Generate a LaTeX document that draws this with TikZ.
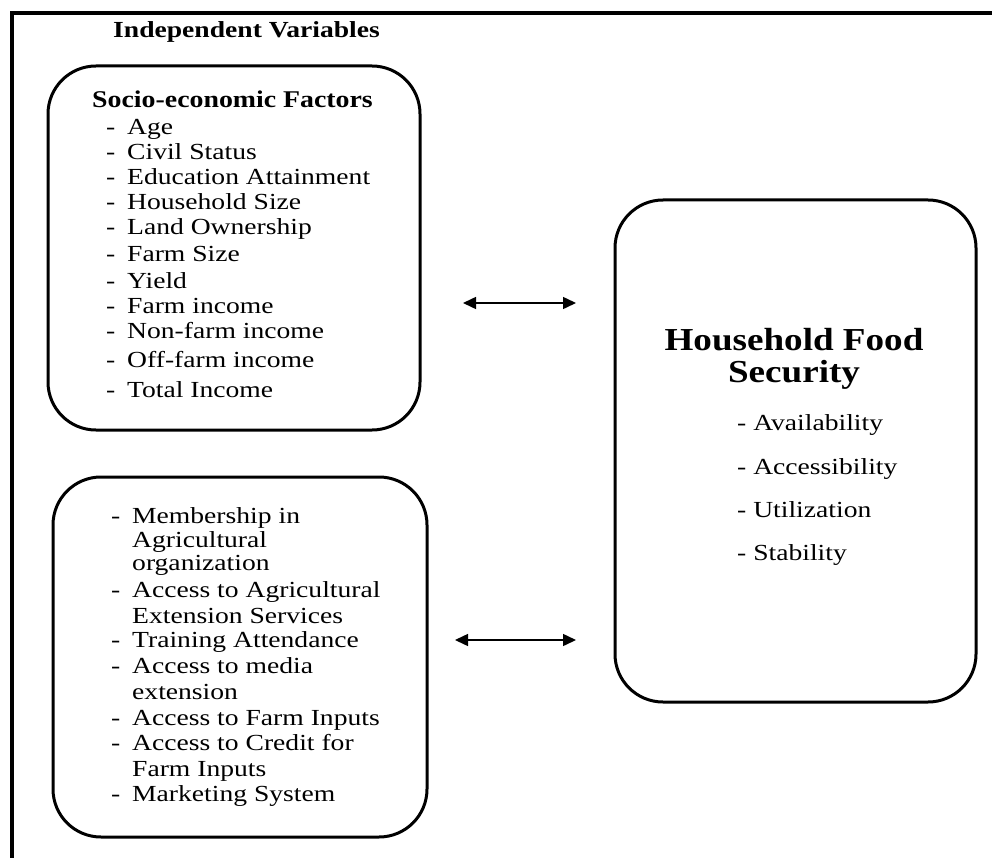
\documentclass[tikz,border=0pt]{standalone}
\usepackage{fontspec}
\setmainfont{Liberation Serif}
\newfontfamily\rmstretch{Liberation Serif}[FakeStretch=1.2]
\newfontfamily\bfstretch{Liberation Serif}[FakeStretch=1.16]
\newfontfamily\ivstretch{Liberation Serif}[FakeStretch=1.2]
\newfontfamily\hfstretch{Liberation Serif}[FakeStretch=1.16]
\usetikzlibrary{arrows.meta}
\tikzset{
  rbox/.style={draw, line width=3pt, rounded corners=48pt, inner sep=0pt},
  frameline/.style={line width=3.5pt},
  arr/.style={line width=1.5pt, {Triangle[length=13pt,width=12pt]}-{Triangle[length=13pt,width=12pt]}},
  itm/.style={anchor=base west, inner sep=0pt, font=\rmstretch\fontsize{23}{26}\selectfont},
  ttl/.style={anchor=base west, inner sep=0pt, font=\bfstretch\bfseries\fontsize{24}{27}\selectfont},
  ivt/.style={anchor=base west, inner sep=0pt, font=\ivstretch\bfseries\fontsize{23}{26}\selectfont},
  htl/.style={anchor=base, inner sep=0pt, font=\hfstretch\bfseries\fontsize{32}{34}\selectfont},
}
\newcommand{\dsh}{\llap{-\hspace{12pt}}}
\begin{document}
\begin{tikzpicture}[x=1pt,y=-1pt]
\useasboundingbox (0,0) rectangle (992,858);
% frame
\draw[frameline] (12,858) -- (12,13) -- (992,13);
% boxes
\node[rbox, minimum width=372pt, minimum height=364pt] (f1) at (234,248) {};
\node[rbox, minimum width=374pt, minimum height=360pt] (f2) at (240,657) {};
\node[rbox, minimum width=361pt, minimum height=502pt] (fs) at (795.5,451) {};
% header
\node[ivt] (iv) at (113,38) {Independent Variables};
% box 1
\node[ttl] (t1) at (92,108) {Socio-economic Factors};
\foreach \y/\t [count=\i] in {135/Age, 160/Civil Status, 185/Education Attainment, 210/Household Size, 235/Land Ownership, 262/Farm Size, 288/Yield, 313/Farm income, 338/Non-farm income, 367/Off-farm income, 397/Total Income}
  \node[itm] (a\i) at (127,\y) {\dsh\t};
% box 2
\foreach \y/\t/\d [count=\i] in {523/Membership in/1, 547/Agricultural/0, 570/organization/0, 597/Access to Agricultural/1, 623/Extension Services/0, 647/Training Attendance/1, 673/Access to media/1, 699/extension/0, 725/Access to Farm Inputs/1, 750/Access to Credit for/1, 776/Farm Inputs/0, 801/Marketing System/1}
  \node[itm] (b\i) at (132,\y) {\ifnum\d=1 \dsh\fi\t};
% box 3
\node[htl] (h1) at (794,350) {Household Food};
\node[htl] (h2) at (794,382) {Security};
\foreach \y/\t [count=\i] in {430/Availability, 474/Accessibility, 517/Utilization, 560/Stability}
  \node[itm] (c\i) at (737,\y) {- \t};
% arrows
\coordinate (p1) at (463,303);
\coordinate (q1) at (576,303);
\coordinate (p2) at (455,640);
\coordinate (q2) at (576,640);
\draw[arr] (p1) -- (q1);
\draw[arr] (p2) -- (q2);
\end{tikzpicture}
\end{document}
